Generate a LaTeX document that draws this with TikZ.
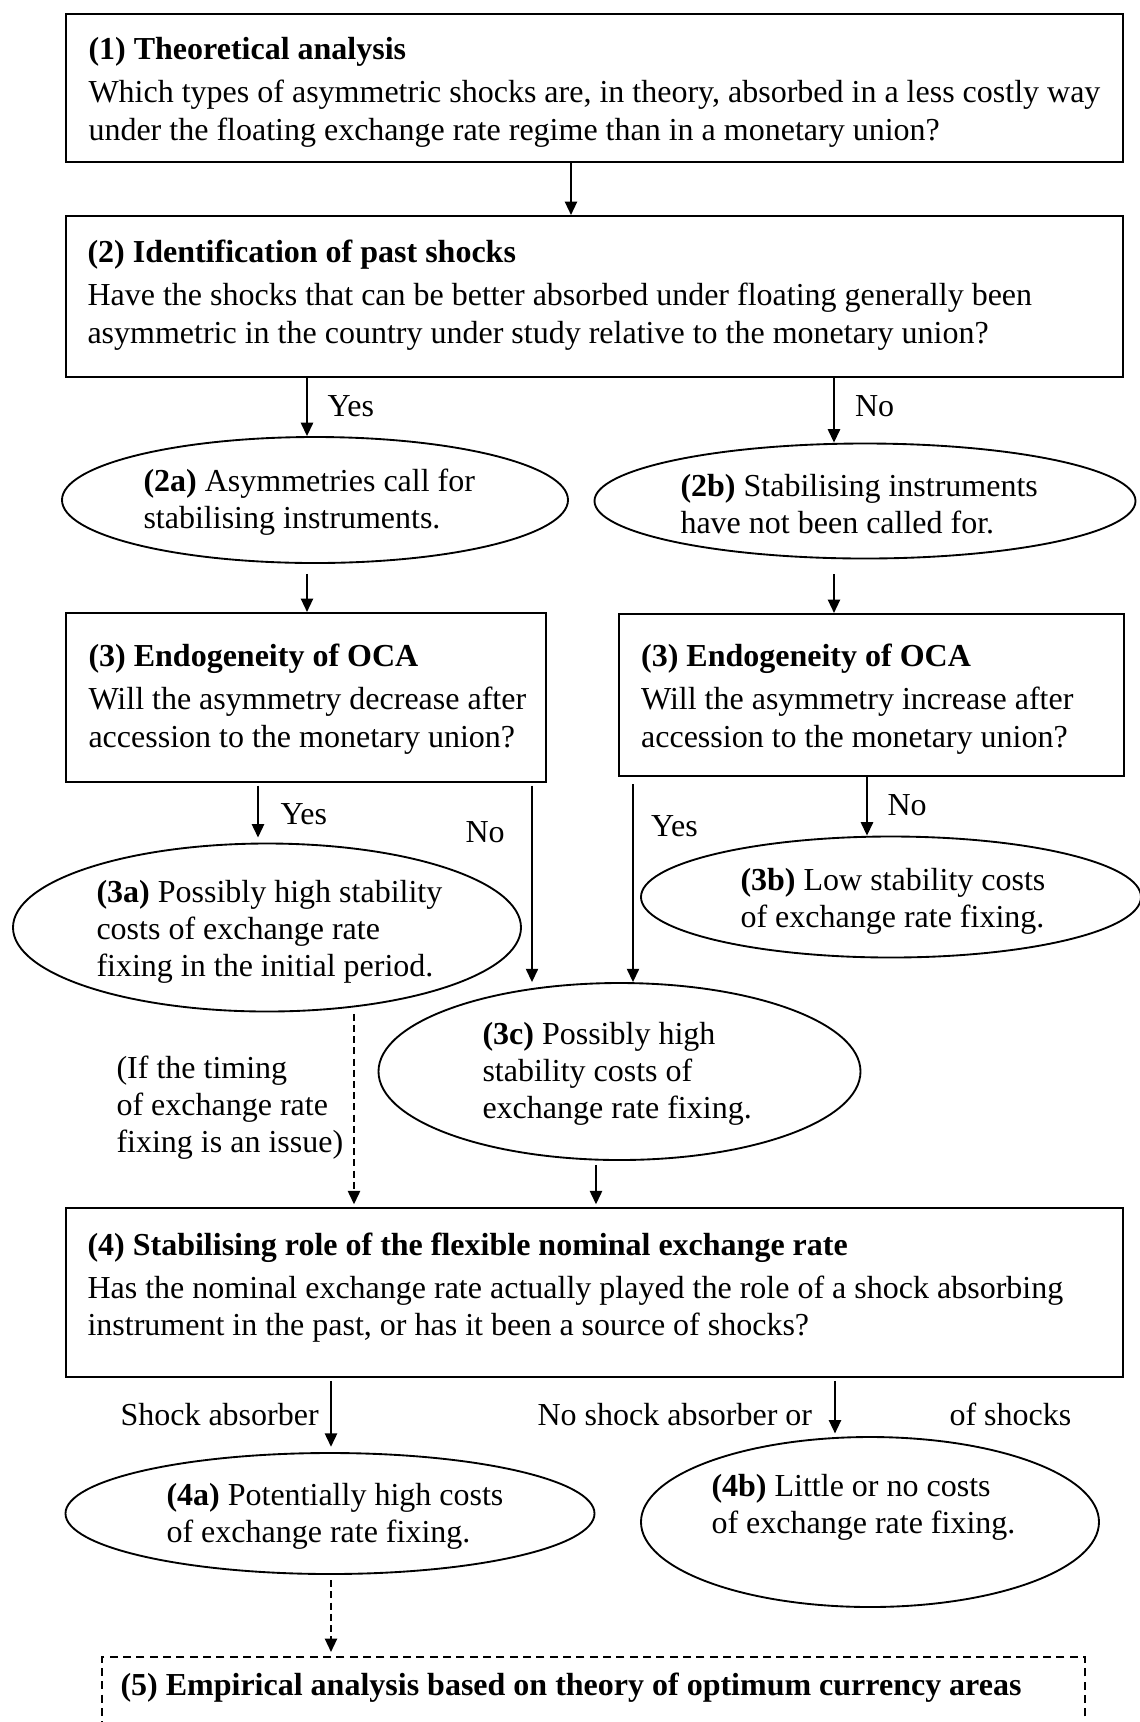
\documentclass[tikz,border=0pt]{standalone}
\usepackage{fontspec}
\setmainfont{Liberation Serif}
\usetikzlibrary{arrows.meta,shapes.geometric}
\newcommand\pxl[1]{#1*0.375pt}
\begin{document}
\begin{tikzpicture}[x=0.375pt,y=-0.375pt,
  box/.style={draw,line width=0.8pt,inner sep=0,rectangle},
  oval/.style={draw,line width=0.7pt,ellipse,inner sep=0},
  txt/.style={inner sep=0,anchor=base west,align=left,font=\fontsize{12}{14.1}\selectfont},
  etxt/.style={inner sep=0,anchor=base west,align=left,font=\fontsize{12}{13.8}\selectfont},
  arr/.style={line width=0.6pt,-{Triangle[length=5pt,width=4.6pt]}},
  darr/.style={arr,dash pattern=on 2.6pt off 1.6pt},
]
\useasboundingbox (0,0) rectangle (1140,1722);
\fill[white] (0,0) rectangle (1140,1722);

% boxes
\node[box,minimum width=\pxl{1057},minimum height=\pxl{148}] (b1) at (594.5,88) {};
\node[box,minimum width=\pxl{1057},minimum height=\pxl{161}] (b2) at (594.5,296.5) {};
\node[box,minimum width=\pxl{480},minimum height=\pxl{169}] (b3l) at (306,697.5) {};
\node[box,minimum width=\pxl{505},minimum height=\pxl{162}] (b3r) at (871.5,695) {};
\node[box,minimum width=\pxl{1057},minimum height=\pxl{169}] (b4) at (594.5,1292.5) {};
\node[box,dash pattern=on 3pt off 2pt,minimum width=\pxl{983},minimum height=\pxl{103}] (b5) at (593.5,1708.5) {};

% ellipses
\node[oval,minimum width=\pxl{506},minimum height=\pxl{126}] (e2a) at (315,500) {};
\node[oval,minimum width=\pxl{541},minimum height=\pxl{115}] (e2b) at (865,501) {};
\node[oval,minimum width=\pxl{508},minimum height=\pxl{168}] (e3a) at (267,927.5) {};
\node[oval,minimum width=\pxl{500},minimum height=\pxl{121}] (e3b) at (891,897) {};
\node[oval,minimum width=\pxl{482},minimum height=\pxl{177}] (e3c) at (619.5,1071.5) {};
\node[oval,minimum width=\pxl{529},minimum height=\pxl{121}] (e4a) at (330,1513.5) {};
\node[oval,minimum width=\pxl{458},minimum height=\pxl{170}] (e4b) at (870,1522) {};

% box texts (anchored at the baseline of the last line)
\node[txt] (t1) at (88,140) {\textbf{(1) Theoretical analysis}\\[2pt]
Which types of asymmetric shocks are, in theory, absorbed in a less costly way\\
under the floating exchange rate regime than in a monetary union?};
\node[txt] (t2) at (87,343.3) {\textbf{(2) Identification of past shocks}\\[2pt]
Have the shocks that can be better absorbed under floating generally been\\
asymmetric in the country under study relative to the monetary union?};
\node[txt] (t3l) at (88,747) {\textbf{(3) Endogeneity of OCA}\\[2pt]
Will the asymmetry decrease after\\
accession to the monetary union?};
\node[txt] (t3r) at (640.6,747) {\textbf{(3) Endogeneity of OCA}\\[2pt]
Will the asymmetry increase after\\
accession to the monetary union?};
\node[txt] (t4) at (87,1335.7) {\textbf{(4) Stabilising role of the flexible nominal exchange rate}\\[2pt]
Has the nominal exchange rate actually played the role of a shock absorbing\\
instrument in the past, or has it been a source of shocks?};
\node[txt] (t5) at (120,1695) {\textbf{(5) Empirical analysis based on theory of optimum currency areas}};

% ellipse texts
\node[etxt] (t2a) at (143,528.3) {\textbf{(2a)} Asymmetries call for\\ stabilising instruments.};
\node[etxt] (t2b) at (680,533) {\textbf{(2b)} Stabilising instruments\\ have not been called for.};
\node[etxt] (t3a) at (96,976) {\textbf{(3a)} Possibly high stability\\ costs of exchange rate\\ fixing in the initial period.};
\node[etxt] (t3b) at (740,927) {\textbf{(3b)} Low stability costs\\ of exchange rate fixing.};
\node[etxt] (t3c) at (482,1118) {\textbf{(3c)} Possibly high\\ stability costs of\\ exchange rate fixing.};
\node[etxt] (t4a) at (166,1542) {\textbf{(4a)} Potentially high costs\\ of exchange rate fixing.};
\node[etxt] (t4b) at (711,1533) {\textbf{(4b)} Little or no costs\\ of exchange rate fixing.};
\node[etxt] (tif) at (116,1152.5) {(If the timing\\ of exchange rate\\ fixing is an issue)};

% labels
\node[etxt] (ly1) at (327,416.7) {Yes};
\node[etxt] (ln1) at (854.5,416.7) {No};
\node[etxt] (ly2) at (280,824) {Yes};
\node[etxt] (ln2) at (465,842) {No};
\node[etxt] (ly3) at (650.6,836) {Yes};
\node[etxt] (ln3) at (887,815) {No};
\node[etxt] (lsa) at (120,1425.8) {Shock absorber};
\node[etxt] (lns) at (537,1425.8) {No shock absorber or};
\node[etxt] (los) at (949,1425.8) {of shocks};

% connector x positions
\coordinate (x571) at (571,0);
\coordinate (x307) at (307,0);
\coordinate (x834) at (834,0);
\coordinate (x258) at (258,0);
\coordinate (x532) at (532,0);
\coordinate (x633) at (633,0);
\coordinate (x867) at (867,0);
\coordinate (x354) at (354,0);
\coordinate (x596) at (596,0);
\coordinate (x331) at (331,0);
\coordinate (x835) at (835,0);

% connectors
\draw[arr] (b1.south -| x571) -- (b2.north -| x571);
\draw[arr] (b2.south -| x307) -- (e2a.north -| x307);
\draw[arr] (b2.south -| x834) -- (e2b.north -| x834);
\draw[arr,shorten <=3.75pt] (e2a.south -| x307) -- (b3l.north -| x307);
\draw[arr,shorten <=5.6pt] (e2b.south -| x834) -- (b3r.north -| x834);
\draw[arr,shorten <=1pt,shorten >=1.9pt] (b3l.south -| x258) -- (e3a.north -| x258);
\draw[arr,shorten <=1pt] (b3l.south -| x532) -- (e3c.north -| x532);
\draw[arr,shorten <=2.6pt] (b3r.south -| x633) -- (e3c.north -| x633);
\draw[arr] (b3r.south -| x867) -- (e3b.north -| x867);
\draw[darr,shorten <=0.5pt,shorten >=1pt] (e3a.south -| x354) -- (b4.north -| x354);
\draw[arr,shorten <=1.5pt,shorten >=1pt] (e3c.south -| x596) -- (b4.north -| x596);
\draw[arr,shorten <=1pt,shorten >=2pt] (b4.south -| x331) -- (e4a.north -| x331);
\draw[arr,shorten <=1pt,shorten >=1pt] (b4.south -| x835) -- (e4b.north -| x835);
\draw[darr,shorten <=2pt,shorten >=1.5pt] (e4a.south -| x331) -- (b5.north -| x331);
\end{tikzpicture}
\end{document}
